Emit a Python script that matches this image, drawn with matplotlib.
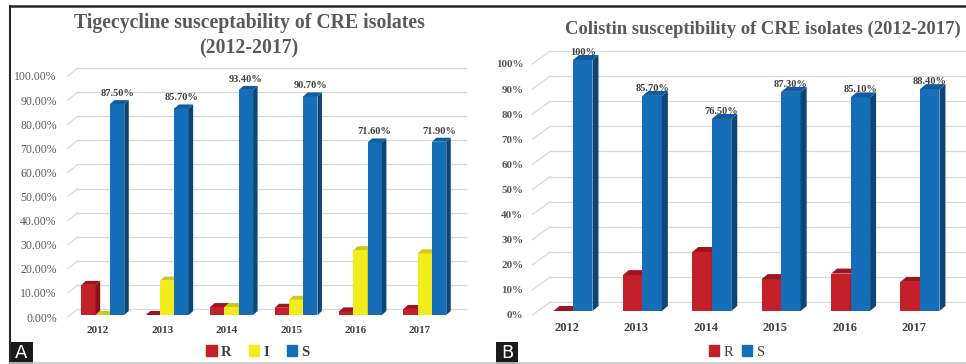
import numpy as np
import matplotlib
matplotlib.use('Agg')
import matplotlib.pyplot as plt
from matplotlib.patches import Polygon, Rectangle, Patch
from matplotlib.lines import Line2D
from matplotlib.transforms import ScaledTranslation

# data
years = ['2012', '2013', '2014', '2015', '2016', '2017']
tige_R = [12.5, 0.0, 3.3, 3.0, 1.5, 2.5]
tige_I = [0.0, 14.3, 3.3, 6.3, 26.9, 25.6]
tige_S = [87.5, 85.7, 93.4, 90.7, 71.6, 71.9]
coli_R = [0.0, 14.3, 23.5, 12.7, 14.9, 11.6]
coli_S = [100.0, 85.7, 76.5, 87.3, 85.1, 88.4]
tige_S_labels = ['87.50%', '85.70%', '93.40%', '90.70%', '71.60%', '71.90%']
coli_S_labels = ['100%', '85.70%', '76.50%', '87.30%', '85.10%', '88.40%']

W, H = 966, 364
SERIF = 'Liberation Serif'
GREY = '#595959'
DARK = '#404040'
GRID = '#d9d9d9'

RED = ('#c3202a', '#8a1117', '#9e161d')
YEL = ('#f3ec1c', '#b5ad0e', '#cfc719')
BLU = ('#166db8', '#0c4679', '#125c9e')

fig = plt.figure(figsize=(W / 100, H / 100), dpi=100)
fig.patch.set_facecolor('white')


def axes_px(left, right, y0, y100):
    # axes placed by pixel edges (y measured from the top)
    return fig.add_axes([left / W, (H - y0) / H, (right - left) / W, (y0 - y100) / H])


def px(ax, dx, dy):
    inv = ax.transData.inverted()
    a = inv.transform((0, 0))
    b = inv.transform((dx, dy))
    return b[0] - a[0], b[1] - a[1]


def bar3d(ax, xs, vals, w, cols, depth, z):
    front, side, top = cols
    ddx, ddy = px(ax, *depth)
    bars = ax.bar(xs, vals, w, color=front, zorder=z, clip_on=False, linewidth=0)
    for b in bars:
        x0 = b.get_x()
        x1 = x0 + w
        h = b.get_height()
        ax.add_patch(Polygon([(x1, 0), (x1 + ddx, ddy), (x1 + ddx, h + ddy), (x1, h)],
                             closed=True, fc=side, ec='none', zorder=z + 0.2, clip_on=False))
        ax.add_patch(Polygon([(x0, h), (x0 + ddx, h + ddy), (x1 + ddx, h + ddy), (x1, h)],
                             closed=True, fc=top, ec='none', zorder=z + 0.2, clip_on=False))


def walls(ax, ticks, back, front, right_px):
    # back-wall gridlines plus the short floor diagonals on the left
    bx, by = px(ax, *back)
    fx, fy = px(ax, *front)
    rx, _ = px(ax, right_px, 0)
    for t in ticks:
        ax.plot([-0.5 + bx, 5.5 + rx], [t + by, t + by], color=GRID, lw=0.9, zorder=1, clip_on=False)
        ax.plot([-0.5 + fx, -0.5 + bx], [t + fy, t + by], color=GRID, lw=0.9, zorder=1, clip_on=False)


def style(ax, ticks, labels, lab_font, lab_weight, lab_drop, xl_size, xl_pad):
    ax.set_xlim(-0.5, 5.5)
    ax.set_ylim(0, 100)
    for s in ax.spines.values():
        s.set_visible(False)
    ax.set_xticks(range(len(years)))
    ax.set_xticklabels(years, fontfamily=SERIF, fontweight='bold', fontsize=xl_size, color=DARK)
    ax.set_yticks(ticks)
    ax.set_yticklabels(labels, fontfamily=SERIF, fontweight=lab_weight, fontsize=lab_font, color=GREY)
    ax.tick_params(axis='x', length=0, pad=xl_pad)
    ax.tick_params(axis='y', length=0, pad=6.5)
    shift = ScaledTranslation(0, -lab_drop / 100, fig.dpi_scale_trans)
    for lab in ax.get_yticklabels():
        lab.set_transform(lab.get_transform() + shift)
    ax.patch.set_visible(False)


ticks = np.arange(0, 101, 10)
x = np.arange(len(years))

# ---- A: tigecycline
axA = axes_px(65.8, 452.2, 315, 74)
style(axA, ticks, ['%.2f%%' % t for t in ticks], 8.5, 'normal', 2, 8, 8)
walls(axA, ticks, (12, 6), (2, -2), 14)
wA = 0.222
sA = 0.075
bar3d(axA, x - wA + sA, tige_R, wA, RED, (4.5, 4), 3)
bar3d(axA, x + sA, tige_I, wA, YEL, (4.5, 4), 3.5)
bar3d(axA, x + wA + sA, tige_S, wA, BLU, (4.5, 4), 4)
for xi, v, lab in zip(x + wA + sA, tige_S, tige_S_labels):
    axA.annotate(lab, (xi, v), xytext=(0, 6), textcoords='offset pixels', ha='center', va='bottom',
                 fontfamily=SERIF, fontweight='bold', fontsize=7.5, color=DARK, zorder=6)

# ---- B: colistin
axB = axes_px(532.3, 948.7, 311, 60)
style(axB, ticks, ['%d%%' % t for t in ticks], 8, 'bold', 4, 9, 8)
walls(axB, ticks, (18, 9), (0, -4), 30)
wB = 0.281
sB = 0.086
bar3d(axB, x - wB / 2 + sB, coli_R, wB, RED, (6, 5), 3)
bar3d(axB, x + wB / 2 + sB, coli_S, wB, BLU, (6, 5), 3.5)
for xi, v, lab in zip(x + wB / 2 + sB, coli_S, coli_S_labels):
    axB.annotate(lab, (xi, v), xytext=(0, 3), textcoords='offset pixels', ha='center', va='bottom',
                 fontfamily=SERIF, fontweight='bold', fontsize=7.5, color=DARK, zorder=6)

# titles
fig.text(249 / W, (H - 23) / H, 'Tigecycline susceptability of CRE isolates', ha='center', va='center',
         fontfamily=SERIF, fontweight='bold', fontsize=14.2, color=GREY)
fig.text(249 / W, (H - 48) / H, '(2012-2017)', ha='center', va='center',
         fontfamily=SERIF, fontweight='bold', fontsize=14.2, color=GREY)
fig.text(763 / W, (H - 29) / H, 'Colistin susceptibility of CRE isolates (2012-2017)', ha='center', va='center',
         fontfamily=SERIF, fontweight='bold', fontsize=13.4, color=GREY)

# legends
legA = [Patch(color=RED[0], label='R'), Patch(color=YEL[0], label='I'), Patch(color=BLU[0], label='S')]
fig.legend(handles=legA, loc='center', bbox_to_anchor=(258 / W, (H - 352) / H), ncol=3, frameon=False,
           handlelength=0.7, handleheight=0.7, handletextpad=0.3, columnspacing=1.2,
           prop={'family': SERIF, 'weight': 'bold', 'size': 10.5}, labelcolor=DARK)
legB = [Patch(color=RED[0], label='R'), Patch(color=BLU[0], label='S')]
fig.legend(handles=legB, loc='center', bbox_to_anchor=(737 / W, (H - 352) / H), ncol=2, frameon=False,
           handlelength=0.7, handleheight=0.7, handletextpad=0.3, columnspacing=0.6,
           prop={'family': SERIF, 'size': 10.5}, labelcolor=DARK)

# frame lines
fig.add_artist(Line2D([10 / W, 1], [(H - 6) / H] * 2, transform=fig.transFigure, color='#262626', lw=1.8))
fig.add_artist(Line2D([10 / W] * 2, [0, (H - 6) / H], transform=fig.transFigure, color='#262626', lw=1.5))
fig.add_artist(Line2D([10 / W, 1], [1 / H] * 2, transform=fig.transFigure, color='#cccccc', lw=1.2))

# panel letters
for x0, x1, letter in [(10, 33, 'A'), (496, 518, 'B')]:
    fig.add_artist(Rectangle((x0 / W, 0), (x1 - x0) / W, 22 / H, transform=fig.transFigure,
                             fc='#1a1a1a', ec='none'))
    fig.text((x0 + x1) / 2 / W, 11 / H, letter, ha='center', va='center', color='white',
             fontfamily='DejaVu Sans', fontsize=13)

plt.savefig('out.png', dpi=100)
